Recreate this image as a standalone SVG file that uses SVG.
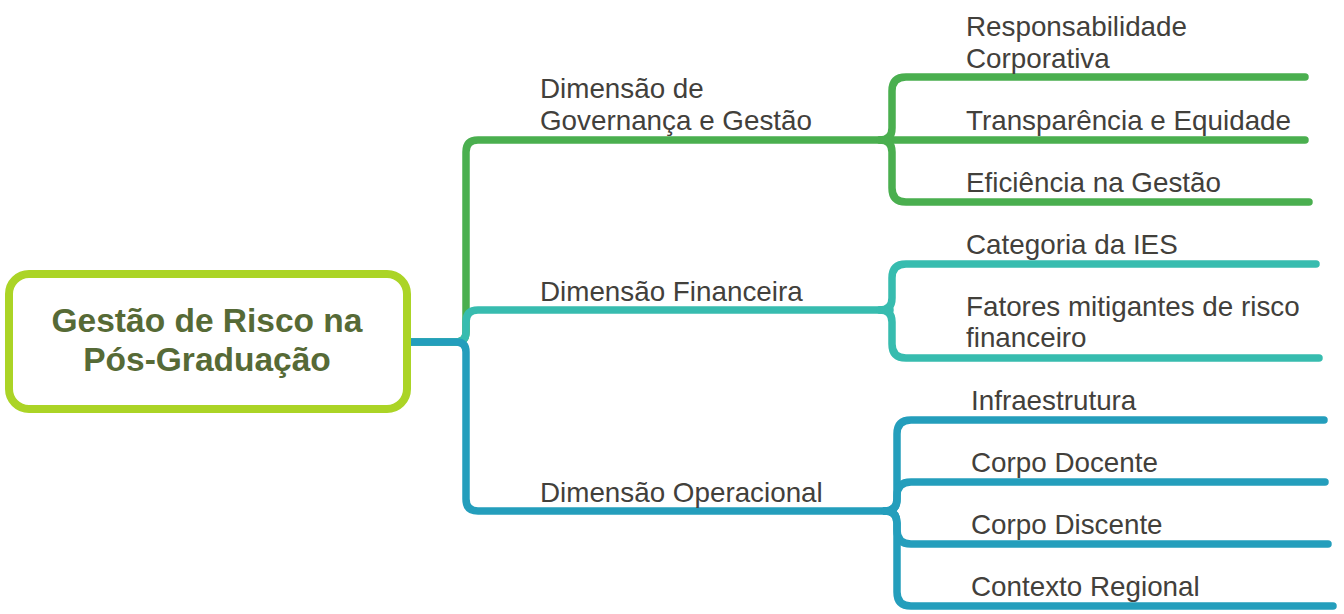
<svg xmlns="http://www.w3.org/2000/svg" width="1344" height="614" viewBox="0 0 1344 614">
<style>
.c{fill:none;stroke-width:7.5;stroke-linecap:round;stroke-linejoin:round}
.g{stroke:#4AAF4F}
.t{stroke:#37BCAF}
.b{stroke:#249EBC}
.lbl{font-family:"Liberation Sans",Arial,sans-serif;font-size:27.8px;fill:#42403B}
.root{font-family:"Liberation Sans",Arial,sans-serif;font-size:33.5px;font-weight:bold;fill:#566A36;text-anchor:middle}
</style>
<rect width="1344" height="614" fill="#FFFFFF"/>
<g id="connectors">
<path class="c g" d="M411,342 H456 Q466,342 466,332 V152 Q466,140 478,140 H1305"/>
<path class="c t" d="M411,342 H456 Q466,342 466,332 V322 Q466,310 478,310 H890"/>
<path class="c b" d="M411,342 H456 Q466,342 466,352 V499 Q466,511 478,511 H890"/>
<path class="c g" d="M880,140 Q892,140 892,128 V91 Q892,77 906,77 H1305"/>
<path class="c g" d="M880,140 Q892,140 892,152 V188 Q892,202 906,202 H1309"/>
<path class="c t" d="M880,310 Q892,310 892,298 V278 Q892,264 906,264 H1316"/>
<path class="c t" d="M880,310 Q892,310 892,322 V344 Q892,358 906,358 H1319"/>
<path class="c b" d="M885,511 Q897,511 897,499 V434 Q897,420 911,420 H1324"/>
<path class="c b" d="M885,511 Q897,511 897,499 V496 Q897,482 911,482 H1325"/>
<path class="c b" d="M885,511 Q897,511 897,523 V530 Q897,544 911,544 H1328"/>
<path class="c b" d="M885,511 Q897,511 897,523 V592 Q897,606 911,606 H1333"/>
</g>
<g id="root">
<rect x="9" y="274" width="398" height="135" rx="20" ry="20" fill="#FFFFFF" stroke="#ABD426" stroke-width="8"/>
<text class="root" x="207" y="332">Gestão de Risco na</text>
<text class="root" x="207" y="371">Pós-Graduação</text>
</g>
<g id="dim-governanca">
<text class="lbl" x="540" y="97.5">Dimensão de</text>
<text class="lbl" x="540" y="130">Governança e Gestão</text>
</g>
<g id="dim-financeira"><text class="lbl" x="540" y="300.5">Dimensão Financeira</text></g>
<g id="dim-operacional"><text class="lbl" x="540" y="502">Dimensão Operacional</text></g>
<g id="responsabilidade">
<text class="lbl" x="966" y="35.5">Responsabilidade</text>
<text class="lbl" x="966" y="68">Corporativa</text>
</g>
<g id="transparencia"><text class="lbl" x="966" y="130">Transparência e Equidade</text></g>
<g id="eficiencia"><text class="lbl" x="966" y="192">Eficiência na Gestão</text></g>
<g id="categoria"><text class="lbl" x="966" y="253.5">Categoria da IES</text></g>
<g id="fatores">
<text class="lbl" x="966" y="315.5">Fatores mitigantes de risco</text>
<text class="lbl" x="966" y="347">financeiro</text>
</g>
<g id="infraestrutura"><text class="lbl" x="971" y="410">Infraestrutura</text></g>
<g id="corpo-docente"><text class="lbl" x="971" y="472">Corpo Docente</text></g>
<g id="corpo-discente"><text class="lbl" x="971" y="533.5">Corpo Discente</text></g>
<g id="contexto-regional"><text class="lbl" x="971" y="595.5">Contexto Regional</text></g>
</svg>
